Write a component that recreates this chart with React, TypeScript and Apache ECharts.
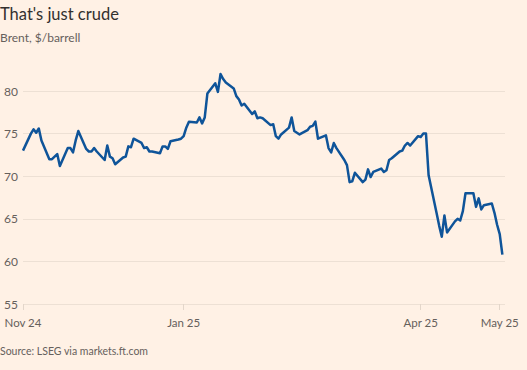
import React, { useEffect, useRef } from "react";
import * as echarts from "echarts";

const titleText = "That's just crude";
const subtitleText = "Brent, $/barrell";
const sourceText = "Source: LSEG via markets.ft.com";

const startDate = "2024-11-01";
const tickDates = ["2024-11-01", "2025-01-01", "2025-04-01", "2025-05-01"];
const tickLabels = ["Nov 24", "Jan 25", "Apr 25", "May 25"];
const yTicks = [55, 60, 65, 70, 75, 80];

// Brent close, one value per weekday from 1 Nov 2024 to 2 May 2025
const prices = [
  73.0, 75.0, 75.5, 75.1, 75.6, 74.2, 72.0, 72.0, 72.3, 72.6,
  71.2, 73.3, 73.3, 72.8, 74.2, 75.3, 73.2, 72.9, 72.9, 73.3,
  72.9, 71.9, 73.6, 72.3, 72.1, 71.4, 72.2, 72.3, 73.5, 73.4,
  74.4, 73.9, 73.3, 73.4, 72.9, 72.9, 72.7, 73.5, 73.5, 73.2,
  74.1, 74.3, 74.4, 74.7, 75.7, 76.4, 76.3, 76.9, 76.2, 76.9,
  79.7, 80.9, 79.9, 82.0, 81.4, 81.0, 80.3, 79.4, 79.0, 78.3,
  78.5, 77.3, 77.6, 76.8, 76.9, 76.8, 76.0, 76.1, 74.7, 74.4,
  74.9, 75.7, 76.9, 75.3, 75.1, 74.9, 75.4, 75.8, 75.9, 76.4,
  74.4, 74.8, 73.3, 72.8, 73.9, 73.3, 71.9, 71.3, 69.3, 69.4,
  70.4, 69.3, 69.6, 70.8, 69.9, 70.5, 70.9, 70.5, 70.7, 71.9,
  72.1, 72.9, 73.0, 73.6, 73.9, 73.6, 74.7, 74.6, 75.0, 75.0,
  70.1, 65.7, 64.2, 62.9, 65.4, 63.4, 64.7, 65.0, 64.8, 65.9,
  68.0, 68.0, 66.4, 67.4, 66.1, 66.6, 66.8, 65.7, 64.3, 63.2,
  60.8,
];

const toTs = (s: string) => {
  const [y, m, d] = s.split("-").map(Number);
  return Date.UTC(y, m - 1, d);
};

function weekdayDates(start: string, n: number): number[] {
  const out: number[] = [];
  let t = toTs(start);
  while (out.length < n) {
    const wd = new Date(t).getUTCDay();
    if (wd !== 0 && wd !== 6) out.push(t);
    t += 86400000;
  }
  return out;
}

export default function App() {
  const ref = useRef<HTMLDivElement>(null);

  useEffect(() => {
    document.body.style.margin = "0";
    if (!ref.current) return;
    const chart = echarts.init(ref.current, undefined, { renderer: "svg" });
    const dates = weekdayDates(startDate, prices.length);
    const tickTs = tickDates.map(toTs);
    const font = "Lato, 'Noto Sans', sans-serif";

    chart.setOption({
      animation: false,
      backgroundColor: "#fff1e5",
      textStyle: { fontFamily: font },
      grid: { left: 23, right: 22, top: 91, bottom: 66, containLabel: false },
      graphic: [
        {
          type: "text",
          left: 0,
          top: 5,
          style: { text: titleText, fontSize: 16.5, fill: "#33302e", fontFamily: font },
        },
        {
          type: "text",
          left: 0,
          top: 31,
          style: { text: subtitleText, fontSize: 12, fill: "#66605c", fontFamily: font },
        },
        {
          type: "text",
          left: 0,
          top: 345,
          style: { text: sourceText, fontSize: 10.5, fill: "#66605c", fontFamily: font },
        },
      ],
      xAxis: {
        type: "value",
        min: toTs("2024-11-01"),
        max: toTs("2025-05-03"),
        axisLine: { show: false },
        axisTick: {
          show: true,
          customValues: tickTs,
          length: 6,
          lineStyle: { color: "#e3d6ca" },
        },
        axisLabel: {
          customValues: tickTs,
          formatter: (v: number) => {
            const i = tickTs.indexOf(v);
            return i >= 0 ? tickLabels[i] : "";
          },
          color: "#66605c",
          fontSize: 11.5,
          margin: 12,
          fontFamily: font,
        },
        splitLine: { show: false },
      },
      yAxis: {
        type: "value",
        min: yTicks[0],
        max: yTicks[yTicks.length - 1],
        interval: 5,
        axisLine: { show: false },
        axisTick: { show: false },
        axisLabel: { color: "#66605c", fontSize: 12, margin: 5, fontFamily: font },
        splitLine: { lineStyle: { color: "#ede0d4", width: 1 } },
      },
      series: [
        {
          type: "line",
          data: dates.map((d, i) => [d, prices[i]]),
          showSymbol: false,
          clip: false,
          lineStyle: { color: "#0f5499", width: 2.5, join: "round" },
          itemStyle: { color: "#0f5499" },
        },
      ],
    });
    return () => chart.dispose();
  }, []);

  return <div ref={ref} style={{ width: 527, height: 370 }} />;
}
